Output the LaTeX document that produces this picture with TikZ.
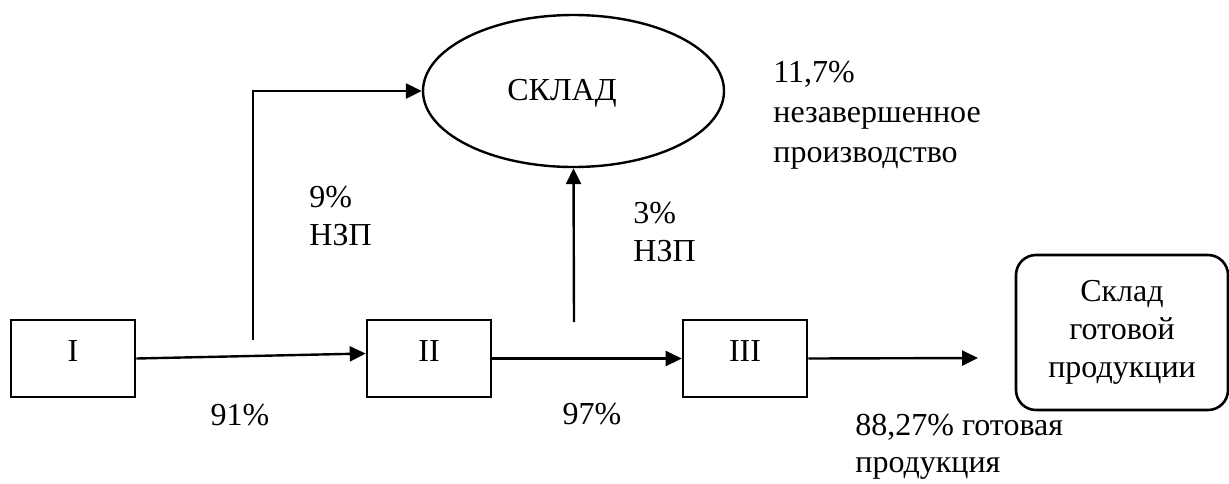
\documentclass[tikz,border=0pt]{standalone}
\usepackage{fontspec}
\setmainfont{Liberation Serif}
\usetikzlibrary{arrows.meta,shapes.geometric}

\tikzset{
  stage/.style={draw, line width=1.3pt, minimum width=62pt, minimum height=38.5pt,
    inner sep=0pt, text height=11pt, text depth=8.5pt},
  flow/.style={line width=1.2pt, -{Triangle[length=8pt,width=7.5pt]}},
  note/.style={inner sep=0pt, align=left}
}

\begin{document}
\begin{tikzpicture}[x=0.5pt, y=-0.5pt, font=\fontsize{16}{19}\selectfont]
  \useasboundingbox (0,0) rectangle (1229,483);
  % stages
  \node[stage] (I) at (73,358.5) {I};
  \node[stage] (II) at (429,358.5) {II};
  \node[stage] (III) at (745,358.5) {III};
  \node[draw, line width=1.3pt, rounded corners=10pt, minimum width=106pt,
    minimum height=77.5pt, inner sep=0pt, align=center] (gp) at (1122,332.5)
    {Склад\\готовой\\продукции};
  % warehouse
  \node[draw, ellipse, line width=1.2pt, minimum width=150.5pt, minimum height=76pt,
    inner sep=0pt] (sklad) at (573.5,91) {};
  \node[anchor=base, inner sep=0pt] (skladtxt) at (562,100) {СКЛАД};
  % branch points
  \coordinate (b1) at (253,340);
  \coordinate (b2) at (574,322);
  \coordinate (out) at (978,358);
  % flows
  \draw[flow] (I.east) -- ([yshift=2.5pt]II.west);
  \draw[flow] (II.east) -- (III.west);
  \draw[flow] (III.east) -- (out);
  \draw[flow] (b1) |- (sklad.west);
  \draw[flow] (b2) -- (sklad.south);
  % labels (base = last line)
  \node[anchor=base, inner sep=0pt] (p91) at (240,425) {91\%};
  \node[anchor=base, inner sep=0pt] (p97) at (592,424) {97\%};
  \node[note, anchor=base west] (n9) at (309,245) {9\%\\НЗП};
  \node[note, anchor=base west] (n3) at (633,261) {3\%\\НЗП};
  \node[note, anchor=base west, font=\fontsize{16}{20}\selectfont] (n117) at (773,162)
    {11,7\%\\незавершенное\\производство};
  \node[note, anchor=base west, font=\fontsize{16}{18.5}\selectfont] (n88) at (855,472)
    {88,27\% готовая\\продукция};
\end{tikzpicture}
\end{document}
